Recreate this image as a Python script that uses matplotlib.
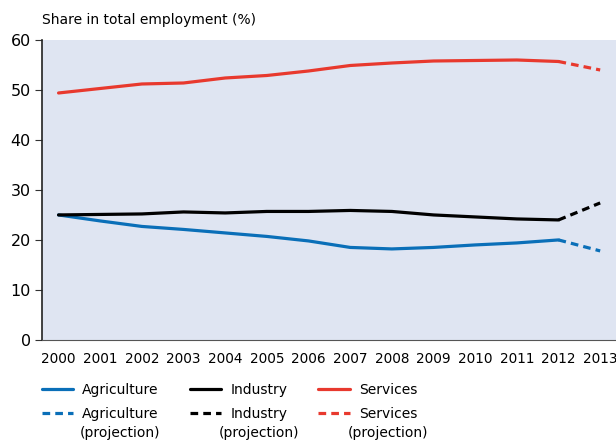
import matplotlib
matplotlib.use('Agg')
import matplotlib.pyplot as plt

years = list(range(2000, 2014))
agriculture = [25.0, 23.8, 22.7, 22.1, 21.4, 20.7, 19.8, 18.5, 18.2, 18.5, 19.0, 19.4, 20.0, 17.8]
industry = [25.0, 25.1, 25.2, 25.6, 25.4, 25.7, 25.7, 25.9, 25.7, 25.0, 24.6, 24.2, 24.0, 27.4]
services = [49.4, 50.3, 51.2, 51.4, 52.4, 52.9, 53.8, 54.9, 55.4, 55.8, 55.9, 56.0, 55.7, 54.0]
n_actual = 13  # 2000-2012 observed, 2013 projected

colours = {'Agriculture': '#0a6fb8', 'Industry': '#000000', 'Services': '#e8392e'}

plt.rcParams['font.family'] = 'DejaVu Sans'

fig = plt.figure(figsize=(6.16, 4.42), dpi=100)
ax = fig.add_axes([0.068, 0.231, 0.932, 0.6785])
ax.set_facecolor('#dfe5f2')

handles = []
for name, vals in zip(['Agriculture', 'Industry', 'Services'], [agriculture, industry, services]):
    c = colours[name]
    h1, = ax.plot(years[:n_actual], vals[:n_actual], color=c, lw=2.3, solid_capstyle='round',
                  label=name)
    h2, = ax.plot(years[n_actual - 1:], vals[n_actual - 1:], color=c, lw=2.3, ls=(0, (2.4, 1.6)),
                  label=name)
    handles += [h1, h2]

ax.set_xlim(1999.6, 2013.38)
ax.set_ylim(0, 60)
ax.set_yticks(range(0, 61, 10))
ax.set_xticks(years)
ax.tick_params(axis='x', length=0, labelsize=9.8, pad=9)
ax.tick_params(axis='y', length=5, labelsize=11.5, color='#333333', pad=3)
for s in ['top', 'right']:
    ax.spines[s].set_visible(False)
ax.spines['left'].set_color('#222222')
ax.spines['bottom'].set_color('#555555')
ax.spines['left'].set_linewidth(1.2)

fig.text(42 / 616, 1 - 20 / 442, 'Share in total employment (%)', fontsize=10, va='center', ha='left')

leg = fig.legend(handles=handles, loc='upper left', bbox_to_anchor=(0.068, 0.1335), ncol=3,
                 frameon=False, fontsize=10, handlelength=2.25, columnspacing=2.25,
                 labelspacing=0.72, handletextpad=0.65, borderaxespad=0, borderpad=0)

# second line "(projection)" centred under the dashed-entry labels
fig.canvas.draw()
renderer = fig.canvas.get_renderer()
inv = fig.transFigure.inverted()
for t in leg.get_texts()[1::2]:
    bb = t.get_window_extent(renderer)
    (x0, y0), (x1, y1) = inv.transform([[bb.x0, bb.y0], [bb.x1, bb.y1]])
    fig.text((x0 + x1) / 2, y0 - 0.011, '(projection)', fontsize=10, ha='center', va='top')

fig.savefig('out.png', dpi=100)
